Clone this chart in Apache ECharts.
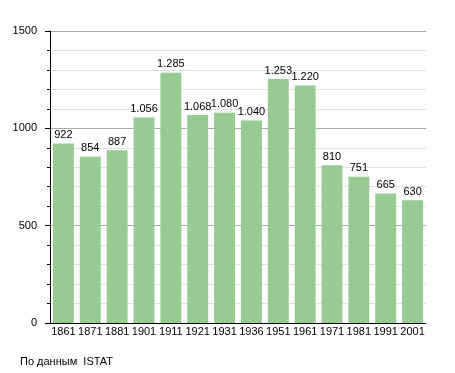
<!DOCTYPE html>
<html><head><meta charset="utf-8">
<script src="https://cdn.jsdelivr.net/npm/echarts@6/dist/echarts.min.js"></script>
<style>html,body{margin:0;padding:0;background:#fff}#c{width:455px;height:373px}</style>
</head><body><div id="c"></div>
<script>
const years = ['1861','1871','1881','1901','1911','1921','1931','1936','1951','1961','1971','1981','1991','2001'];
const population = [922,854,887,1056,1285,1068,1080,1040,1253,1220,810,751,665,630];
const yTicks = [0,500,1000,1500];
const sourceText = 'По данным  ISTAT';

function fmt(v){ return String(v).replace(/\B(?=(\d{3})+(?!\d))/g,'.'); }

const chart = echarts.init(document.getElementById('c'), null, {renderer:'canvas'});
chart.setOption({
  animation:false,
  textStyle:{fontFamily:'Liberation Sans, Arial, sans-serif'},
  grid:{left:50,right:29,top:31,bottom:50,containLabel:false},
  graphic:[{type:'text',left:20,top:356,style:{text:sourceText,fill:'#000',font:'11px Liberation Sans, Arial, sans-serif'}}],
  xAxis:{type:'category',data:years,
    axisLine:{lineStyle:{color:'#000',width:1}},
    axisTick:{show:false},
    axisLabel:{color:'#000',fontSize:11,margin:3,interval:0}},
  yAxis:{type:'value',min:yTicks[0],max:yTicks[yTicks.length-1],interval:500,
    axisLine:{show:true,lineStyle:{color:'#000'}},
    axisTick:{show:true,length:5,lineStyle:{color:'#000'}},
    minorTick:{show:true,splitNumber:5,length:3,lineStyle:{color:'#000'}},
    splitLine:{show:true,lineStyle:{color:'#aaaaaa'}},
    minorSplitLine:{show:true,lineStyle:{color:'#e2e2e2'}},
    axisLabel:{color:'#000',fontSize:11,margin:13,formatter:v=>String(v)}},
  series:[{type:'bar',data:population,barCategoryGap:'22%',
    itemStyle:{color:'#98cb94'},
    label:{show:true,position:'top',distance:3,color:'#000',fontSize:11,formatter:p=>fmt(p.value)}}]
});
</script></body></html>
